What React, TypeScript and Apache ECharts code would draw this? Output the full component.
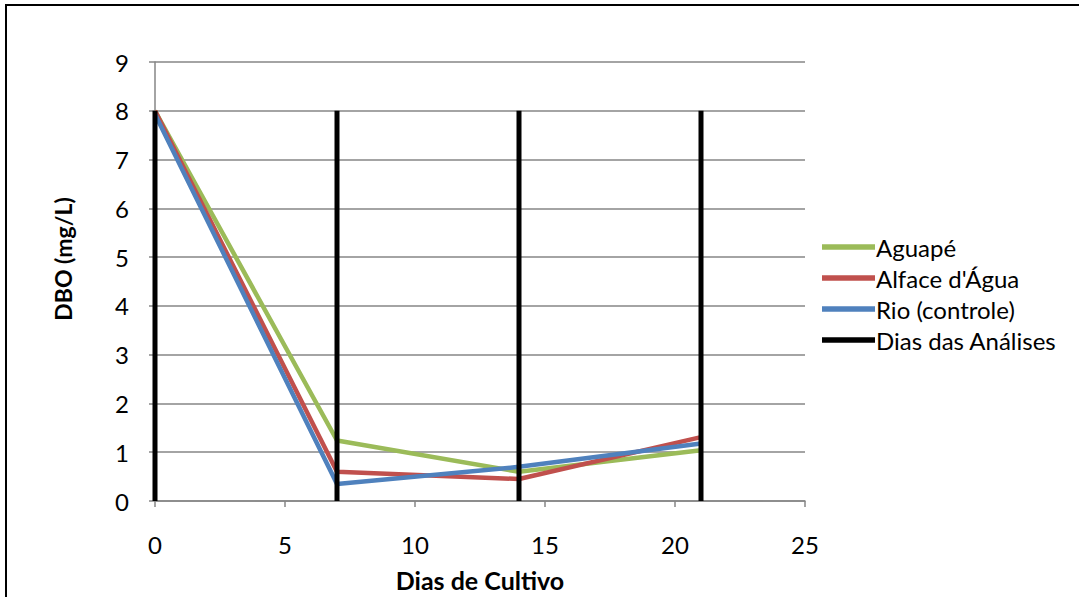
import React, { useEffect, useRef } from "react";
import * as echarts from "echarts";

const days = [0, 7, 14, 21];
const aguape = [8, 1.24, 0.6, 1.04];
const alface = [8, 0.6, 0.45, 1.31];
const rio = [7.93, 0.35, 0.7, 1.18];
const analysisTop = 8;
const xTicks = [0, 5, 10, 15, 20, 25];
const yTicks = [0, 1, 2, 3, 4, 5, 6, 7, 8, 9];

const FONT = "Lato, 'Open Sans', sans-serif";

export default function App() {
  const ref = useRef<HTMLDivElement>(null);
  useEffect(() => {
    if (!ref.current) return;
    const chart = echarts.init(ref.current, undefined, { renderer: "svg" });
    const pts = (ys: number[]) => days.map((d, i) => [d, ys[i]]);
    const lineSeries = (name: string, ys: number[], color: string) => ({
      name,
      type: "line",
      data: pts(ys),
      symbol: "none",
      showSymbol: false,
      lineStyle: { color, width: 4.5 },
      itemStyle: { color },
      z: 2,
    });
    const dayLines = days.map((d) => ({
      name: "Dias das Análises",
      type: "line",
      data: [
        [d, 0],
        [d, analysisTop],
      ],
      symbol: "none",
      showSymbol: false,
      lineStyle: { color: "#000000", width: 5 },
      itemStyle: { color: "#000000" },
      z: 3,
    }));
    chart.setOption({
      animation: false,
      backgroundColor: "#ffffff",
      textStyle: { fontFamily: FONT },
      graphic: [
        {
          type: "rect",
          shape: { x: 6, y: 5, width: 1200, height: 800 },
          style: { fill: "none", stroke: "#000000", lineWidth: 2 },
          silent: true,
        },
        {
          type: "text",
          x: 63,
          y: 259,
          rotation: Math.PI / 2,
          style: {
            text: "DBO (mg/L)",
            fontSize: 23,
            fontWeight: "bold",
            fontFamily: FONT,
            fill: "#000",
            align: "center",
            verticalAlign: "middle",
          },
        },
      ],
      grid: { left: 155, right: 274, top: 62, bottom: 94 },
      legend: {
        orient: "vertical",
        left: 817,
        top: 230,
        itemWidth: 53,
        itemHeight: 14,
        itemGap: 7,
        icon: "path://M0,0L10,0L10,1L0,1Z",
        textStyle: { fontSize: 24, color: "#000", fontFamily: FONT, padding: [0, 0, 0, -4] },
        data: ["Aguapé", "Alface d'Água", "Rio (controle)", "Dias das Análises"],
      },
      xAxis: {
        type: "value",
        min: 0,
        max: 25,
        interval: 5,
        name: "Dias de Cultivo",
        nameLocation: "middle",
        nameGap: 66,
        nameTextStyle: { fontSize: 25, fontWeight: "bold", color: "#000", fontFamily: FONT },
        axisLine: { show: true, lineStyle: { color: "#868686", width: 1.5 } },
        axisTick: { show: true, length: 6, lineStyle: { color: "#868686", width: 1.5 } },
        axisLabel: {
          color: "#000",
          fontSize: 24,
          margin: 31,
          fontFamily: FONT,
          formatter: (v: number) => (xTicks.includes(v) ? String(v) : ""),
        },
        splitLine: { show: false },
      },
      yAxis: {
        type: "value",
        min: 0,
        max: 9,
        interval: 1,
        axisLine: { show: true, lineStyle: { color: "#868686", width: 1.5 } },
        axisTick: { show: true, length: 6, lineStyle: { color: "#868686", width: 1.5 } },
        axisLabel: {
          color: "#000",
          fontSize: 24,
          margin: 26,
          fontFamily: FONT,
          formatter: (v: number) => (yTicks.includes(v) ? String(v) : ""),
        },
        splitLine: { show: true, lineStyle: { color: "#868686", width: 1.5 } },
      },
      series: [
        lineSeries("Aguapé", aguape, "#9BBB59"),
        lineSeries("Alface d'Água", alface, "#C0504D"),
        lineSeries("Rio (controle)", rio, "#4F81BD"),
        ...dayLines,
      ],
    });
    return () => chart.dispose();
  }, []);
  return (
    <div
      ref={ref}
      style={{ position: "fixed", left: 0, top: 0, width: 1079, height: 597 }}
    />
  );
}
